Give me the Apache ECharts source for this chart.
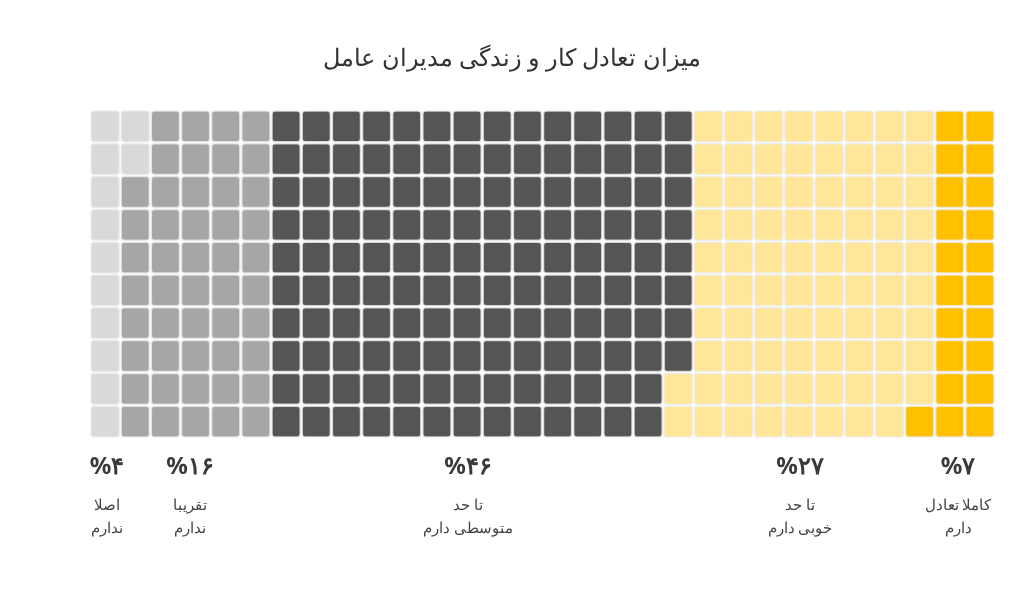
<!DOCTYPE html>
<html><head><meta charset="utf-8">
<script src="https://cdn.jsdelivr.net/npm/echarts@6/dist/echarts.min.js"></script>
<style>html,body{margin:0;background:#fff}#c{width:1024px;height:614px}</style>
</head><body><div id="c"></div>
<script>
const title = 'میزان تعادل کار و زندگی مدیران عامل';
const categories = ['کاملا تعادل\nدارم','تا حد\nخوبی دارم','تا حد\nمتوسطی دارم','تقریبا\nندارم','اصلا\nندارم'];
const percents = [7, 27, 46, 16, 4];
const percentLabels = ['%۷','%۲۷','%۴۶','%۱۶','%۴'];
const colors = ['#ffc000','#ffe699','#555555','#a6a6a6','#d9d9d9'];
const labelX = [958, 800, 468, 190, 107];
const COLS = 30, ROWS = 10, TOTAL = COLS*ROWS;

const cells = [];
let idx = 0;
percents.forEach((p, k) => {
  const n = Math.round(p * TOTAL / 100);
  for (let i = 0; i < n; i++, idx++) {
    const col = COLS - 1 - Math.floor(idx / ROWS);
    const row = idx % ROWS;
    cells.push([col, row, k]);
  }
});

const chart = echarts.init(document.getElementById('c'));
chart.setOption({
  title: {text: title, left: 'center', top: 42, textStyle:{fontSize:24, fontWeight:'normal', color:'#333', fontFamily:'Noto Sans'}},
  grid: {left: 90, right: 29, top: 110, bottom: 176},
  xAxis: {type:'value', min:-0.5, max:COLS-0.5, show:false},
  yAxis: {type:'value', min:-0.5, max:ROWS-0.5, show:false},
  graphic: percents.flatMap((p,k)=>[
    {type:'text', x: labelX[k], y: 455, style:{text: percentLabels[k], font:'bold 24px "Noto Sans", sans-serif', fill:'#3a3a3a', align:'center'}},
    {type:'text', x: labelX[k], y: 494, style:{text: categories[k], font:'15px "Noto Sans", sans-serif', fill:'#444', align:'center', lineHeight:23}}
  ]),
  series: [{
    type:'custom',
    data: cells,
    renderItem: (params, api) => {
      const c = api.coord([api.value(0), api.value(1)]);
      const s = api.size([1, 1]);
      const w = s[0] - 2, h = s[1] - 2;
      return {type:'rect', shape:{x:c[0]-w/2, y:c[1]-h/2, width:w, height:h, r:3},
        style:{fill: colors[api.value(2)], stroke:'rgba(235,235,235,0.8)', lineWidth:1.5}};
    }
  }]
});
</script></body></html>
